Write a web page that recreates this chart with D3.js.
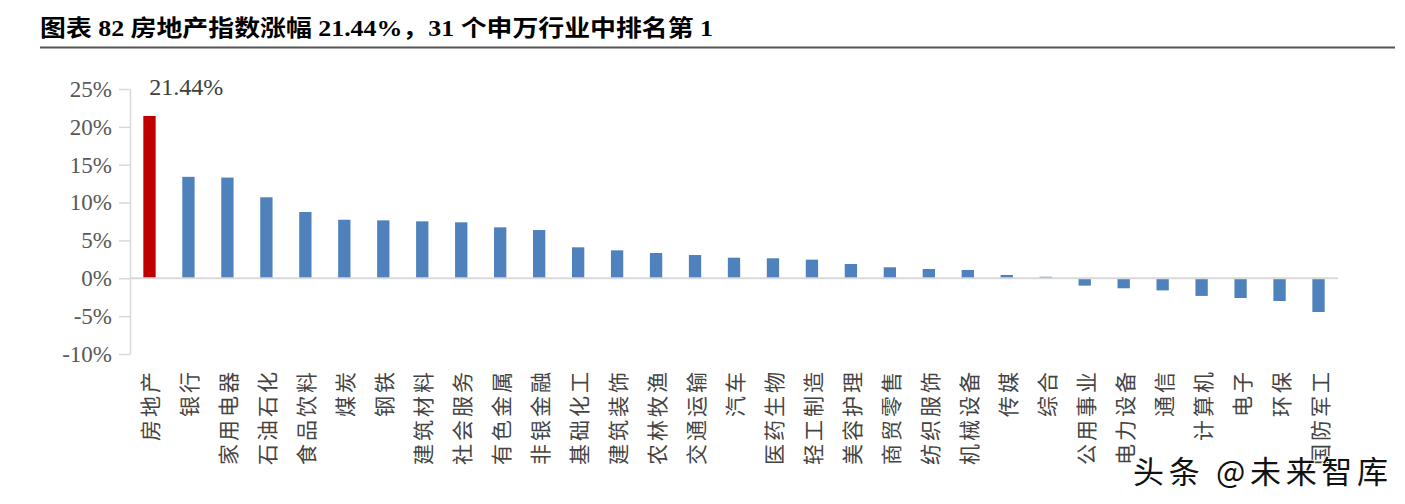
<!DOCTYPE html>
<html>
<head>
<meta charset="utf-8">
<script src="https://cdn.jsdelivr.net/npm/d3@7"></script>
<style>
  html, body { margin: 0; padding: 0; background: #fff; }
  svg { display: block; }
</style>
</head>
<body>
<svg id="chart" width="1405" height="504"></svg>
<script>
const titleText = "图表 82 房地产指数涨幅 21.44%，31 个申万行业中排名第 1";
const categories = ["房地产","银行","家用电器","石油石化","食品饮料","煤炭","钢铁","建筑材料","社会服务","有色金属","非银金融","基础化工","建筑装饰","农林牧渔","交通运输","汽车","医药生物","轻工制造","美容护理","商贸零售","纺织服饰","机械设备","传媒","综合","公用事业","电力设备","通信","计算机","电子","环保","国防军工"];
const values = [21.44,13.4,13.3,10.7,8.75,7.73,7.65,7.52,7.39,6.73,6.37,4.09,3.69,3.34,3.07,2.72,2.64,2.46,1.89,1.45,1.23,1.1,0.44,0.2,-0.97,-1.32,-1.6,-2.33,-2.6,-3.0,-4.45];
const yTicks = [-10,-5,0,5,10,15,20,25];
const highlightLabel = "21.44%";
const watermark = "头条 @未来智库";

const svg = d3.select("#chart");

// Title
svg.append("text")
  .attr("x", 40).attr("y", 36)
  .attr("textLength", 673).attr("lengthAdjust", "spacingAndGlyphs")
  .style("font-family", "'Liberation Serif', 'Noto Sans CJK SC', serif")
  .style("font-weight", "bold")
  .style("font-size", "23px")
  .style("fill", "#000")
  .text(titleText);

svg.append("line")
  .attr("x1", 40).attr("x2", 1395).attr("y1", 47.5).attr("y2", 47.5)
  .attr("stroke", "#555").attr("stroke-width", 2);

const x = d3.scaleBand()
  .domain(categories)
  .range([130, 1338])
  .paddingInner(0.684)
  .paddingOuter(0.342);

const y = d3.scaleLinear().domain([-10, 25]).range([354, 89]);

// Y axis
const yAxis = d3.axisLeft(y)
  .tickValues(yTicks)
  .tickSize(11)
  .tickSizeOuter(0)
  .tickPadding(7)
  .tickFormat(d => d + "%");

const gy = svg.append("g").attr("transform", "translate(130,0)").call(yAxis);
gy.select(".domain").attr("stroke", "#d9d9d9").attr("stroke-width", 1.5);
gy.selectAll(".tick line").attr("stroke", "#d9d9d9").attr("stroke-width", 1.5);
gy.selectAll(".tick text")
  .style("font-family", "'Liberation Serif', serif")
  .style("font-size", "23px")
  .style("fill", "#595959");

// Bars
svg.append("g").selectAll("rect")
  .data(categories)
  .join("rect")
  .attr("x", d => x(d))
  .attr("width", x.bandwidth())
  .attr("y", (d, i) => y(Math.max(0, values[i])))
  .attr("height", (d, i) => Math.abs(y(values[i]) - y(0)))
  .attr("fill", (d, i) => i === 0 ? "#c00000" : "#4f81bd");

// Zero line
svg.append("line")
  .attr("x1", 130).attr("x2", 1338)
  .attr("y1", y(0)).attr("y2", y(0))
  .attr("stroke", "#d9d9d9").attr("stroke-width", 2);

// Value label for first bar
svg.append("text")
  .attr("x", x(categories[0]) + 6)
  .attr("y", 95)
  .style("font-family", "'Liberation Serif', serif")
  .style("font-size", "24px")
  .style("fill", "#404040")
  .text(highlightLabel);

// Category labels (rotated)
svg.append("g").selectAll("text")
  .data(categories)
  .join("text")
  .attr("transform", d => `translate(${x(d) + x.bandwidth() / 2},369) rotate(-90)`)
  .attr("text-anchor", "end")
  .attr("dominant-baseline", "central")
  .style("font-family", "'Noto Sans CJK SC', sans-serif")
  .style("font-size", "21px")
  .style("letter-spacing", "3px")
  .style("fill", "#444")
  .text(d => d);

// Watermark
svg.append("text")
  .attr("x", 1133).attr("y", 483)
  .attr("textLength", 255).attr("lengthAdjust", "spacing")
  .style("font-family", "'Noto Sans CJK SC', sans-serif")
  .style("font-size", "31px")
  .style("fill", "#111")
  .style("stroke", "#fff")
  .style("stroke-width", 2)
  .style("paint-order", "stroke")
  .text(watermark);
</script>
</body>
</html>
